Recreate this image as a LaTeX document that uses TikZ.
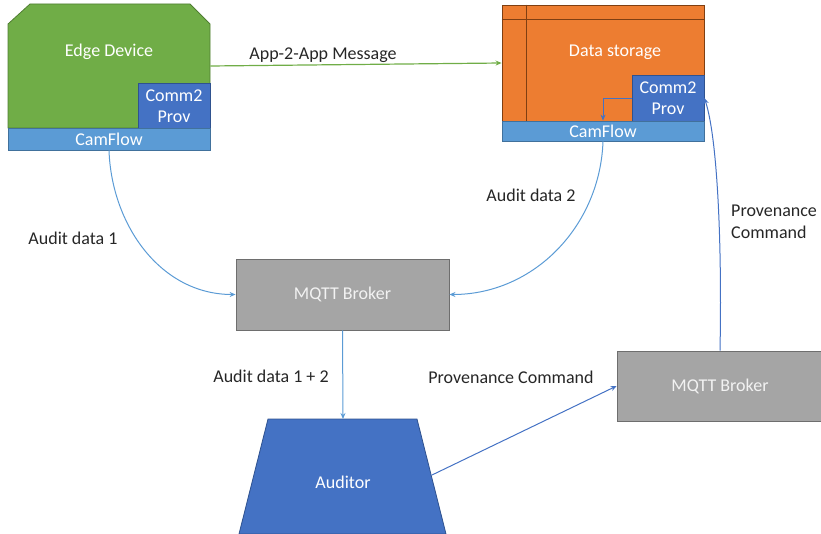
\documentclass[tikz,border=0pt]{standalone}
\usepackage{fontspec}
\setmainfont{Carlito}
\usetikzlibrary{arrows.meta}
\definecolor{cgreen}{HTML}{70AD47}
\definecolor{cgreenD}{HTML}{507E32}
\definecolor{corange}{HTML}{ED7D31}
\definecolor{corangeD}{HTML}{7F3F12}
\definecolor{cblue}{HTML}{4472C4}
\definecolor{cblueD}{HTML}{2F528F}
\definecolor{clight}{HTML}{5B9BD5}
\definecolor{clightD}{HTML}{41719C}
\definecolor{cgray}{HTML}{A5A5A5}
\definecolor{cgrayD}{HTML}{6E6E6E}
\definecolor{ctext}{HTML}{F2F2F2}
\tikzset{
  box/.style={rectangle, inner sep=0pt, line width=0.8pt, text=white,
    font=\fontsize{18}{21}\selectfont, align=center},
  provbox/.style={box, fill=cblue, draw=cblueD, minimum width=72pt, minimum height=46pt},
  cambox/.style={box, fill=clight, draw=clightD, minimum width=202pt},
  broker/.style={box, fill=cgray, draw=cgrayD, text=ctext, minimum width=213pt, minimum height=71pt},
  lbl/.style={font=\fontsize{18}{22}\selectfont, text=black!85, inner sep=0pt},
  tip/.style={-{Stealth[length=6pt,width=5pt]}},
  audit/.style={tip, draw=clight, line width=1pt},
  prov/.style={tip, draw=cblue, line width=1pt},
}
\begin{document}
\begin{tikzpicture}[x=1pt,y=-1pt]
\useasboundingbox (0,0) rectangle (821,534);

% Edge device: green body with cut top corners
\fill[cgreen, draw=cgreenD, line width=0.8pt]
  (8,128) -- (8,24) -- (30,4) -- (190,4) -- (210,24) -- (210,128) -- cycle;
\node[box, minimum width=202pt, minimum height=124pt] (edge) at (109,66) {};
\node[box] (edgetext) at (109,52) {Edge Device};
\node[provbox] (eprov) at (174,106) {Comm2\\Prov};
\node[cambox, minimum height=22pt] (ecam) at (109,139) {CamFlow};

% Data storage: orange block with ruled header and margin
\node[box, fill=corange, draw=corangeD, minimum width=202pt, minimum height=116pt] (store) at (603,63) {};
\draw[corangeD, line width=0.8pt] (store.north west) ++(0,15) -- ++(202,0);
\draw[corangeD, line width=0.8pt] (store.north west) ++(25,0) -- ++(0,116);
\node[box] (storetext) at (615,52) {Data storage};
\node[provbox] (sprov) at (668,98) {Comm2\\Prov};
\node[cambox, minimum height=20pt] (scam) at (603,131) {CamFlow};
\draw[tip, draw=cblue, line width=0.8pt] (sprov.west) -| (scam.north);

% Brokers
\node[broker] (mqtt1) at (342.5,294.5) {MQTT Broker};
\node[broker, minimum width=206pt, minimum height=70pt] (mqtt2) at (720,386) {MQTT Broker};

% Auditor trapezium
\fill[cblue, draw=cblueD, line width=0.8pt]
  (268,419) -- (417,419) -- (446,534) -- (239,534) -- cycle;
\node[box] (auditor) at (343,482) {Auditor};
\coordinate (audR) at (432,475);
\coordinate (audT) at (343,419);

% Connectors
\draw[tip, draw=cgreen, line width=1.2pt] (edge.east) -- (store.west);
\draw[audit] (ecam.south) to[out=-88,in=180] (mqtt1.west);
\draw[audit] (scam.south) to[out=-92,in=0] (mqtt1.east);
\draw[audit] (mqtt1.south) -- (audT);
\draw[prov] (audR) -- (mqtt2.west);
\draw[prov] (mqtt2.north) .. controls (722,250) and (718,140) .. (sprov.east);

% Labels
\node[lbl] (l1) at (323,55) {App-2-App Message};
\node[lbl] (l2) at (73,238) {Audit data 1};
\node[lbl] (l3) at (531,195) {Audit data 2};
\node[lbl] (l4) at (271,376) {Audit data 1 + 2};
\node[lbl] (l5) at (511,377) {Provenance Command};
\node[lbl, align=left, anchor=west] (l6) at (731,222) {Provenance\\Command};
\end{tikzpicture}
\end{document}
